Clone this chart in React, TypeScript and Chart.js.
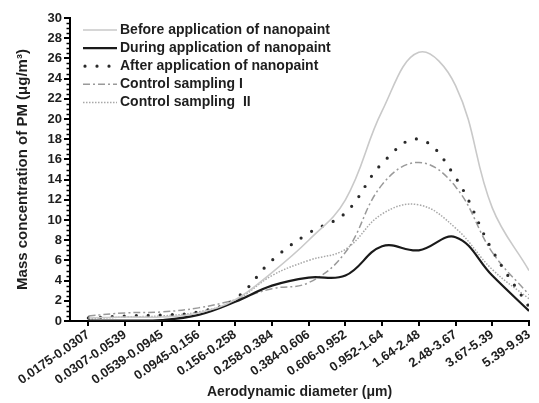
import React, { useEffect, useRef } from "react";
import { Chart, registerables } from "chart.js";

Chart.register(...registerables);

const categories: string[] = [
  "0.0175-0.0307",
  "0.0307-0.0539",
  "0.0539-0.0945",
  "0.0945-0.156",
  "0.156-0.258",
  "0.258-0.384",
  "0.384-0.606",
  "0.606-0.952",
  "0.952-1.64",
  "1.64-2.48",
  "2.48-3.67",
  "3.67-5.39",
  "5.39-9.93",
];

const beforeValues: number[] = [0.3, 0.4, 0.4, 0.8, 2.1, 4.8, 8.0, 12.0, 20.8, 26.6, 23.3, 11.2, 5.0];
const duringValues: number[] = [0.05, 0.05, 0.1, 0.6, 1.9, 3.5, 4.3, 4.5, 7.4, 7.0, 8.3, 4.5, 1.0];
const afterValues: number[] = [0.3, 0.5, 0.6, 0.9, 2.2, 6.0, 8.7, 10.7, 15.6, 18.0, 14.2, 7.0, 1.4];
const control1Values: number[] = [0.5, 0.8, 0.9, 1.3, 2.1, 3.2, 3.8, 6.8, 13.5, 15.7, 13.3, 6.8, 2.6];
const control2Values: number[] = [0.2, 0.4, 0.5, 0.9, 2.0, 4.5, 6.0, 7.1, 10.6, 11.5, 9.2, 5.1, 2.2];

const seriesLabels: string[] = [
  "Before application of nanopaint",
  "During application of nanopaint",
  "After application of nanopaint",
  "Control sampling I",
  "Control sampling  II",
];

const yMin = 0;
const yMax = 30;
const yMajorStep = 2;
const yMinorStep = 0.5;

const FONT = '"Liberation Sans", Arial, Helvetica, sans-serif';
const TEXT = "#1e1e1e";

const toPoints = (vals: number[]) => vals.map((v, i) => ({ x: i, y: v }));

const minorTicksPlugin = {
  id: "minorTicks",
  afterDraw(chart: any) {
    const ys = chart.scales.y;
    const ctx = chart.ctx;
    ctx.save();
    ctx.strokeStyle = "#000";
    ctx.lineWidth = 1.5;
    for (let v = yMin + yMinorStep; v < yMax; v += yMinorStep) {
      if (Math.abs(v % yMajorStep) < 1e-9) continue;
      const py = Math.round(ys.getPixelForValue(v)) + 0.5;
      ctx.beginPath();
      ctx.moveTo(ys.right - 3.5, py);
      ctx.lineTo(ys.right, py);
      ctx.stroke();
    }
    ctx.restore();
  },
};

const insideLegendPlugin = {
  id: "insideLegend",
  afterDatasetsDraw(chart: any) {
    const { ctx, chartArea } = chart;
    chart.data.datasets.forEach((ds: any, i: number) => {
      const y = chartArea.top + 12 + i * 18.1;
      const x0 = chartArea.left + 13;
      ctx.save();
      ctx.strokeStyle = ds.borderColor;
      ctx.lineWidth = ds.borderWidth;
      ctx.lineCap = ds.borderCapStyle || "butt";
      ctx.setLineDash(ds.borderDash || []);
      ctx.beginPath();
      ctx.moveTo(x0 + (ds.borderCapStyle === "round" ? 2 : 0), y);
      ctx.lineTo(x0 + 34, y);
      ctx.stroke();
      ctx.setLineDash([]);
      ctx.fillStyle = TEXT;
      ctx.font = `bold 14px ${FONT}`;
      ctx.textBaseline = "middle";
      ctx.textAlign = "left";
      ctx.fillText(ds.label, x0 + 37, y);
      ctx.restore();
    });
  },
};

export default function App() {
  const canvasRef = useRef<HTMLCanvasElement | null>(null);

  useEffect(() => {
    if (!canvasRef.current) return;
    Chart.defaults.font.family = FONT;
    const common = { pointRadius: 0, pointHoverRadius: 0, tension: 0.4, fill: false };
    const chart = new Chart(canvasRef.current, {
      type: "line",
      data: {
        datasets: [
          { ...common, label: seriesLabels[0], data: toPoints(beforeValues), borderColor: "#c9c9c9", borderWidth: 1.6 },
          { ...common, label: seriesLabels[1], data: toPoints(duringValues), borderColor: "#1a1a1a", borderWidth: 2.2 },
          {
            ...common,
            label: seriesLabels[2],
            data: toPoints(afterValues),
            borderColor: "#2a2a2a",
            borderWidth: 3.2,
            borderDash: [0, 12],
            borderCapStyle: "round",
          },
          { ...common, label: seriesLabels[3], data: toPoints(control1Values), borderColor: "#9a9a9a", borderWidth: 1.5, borderDash: [7, 3, 2, 3] },
          { ...common, label: seriesLabels[4], data: toPoints(control2Values), borderColor: "#a8a8a8", borderWidth: 1.5, borderDash: [1.5, 1.5] },
        ],
      },
      options: {
        responsive: false,
        animation: false,
        layout: { padding: { top: 18, right: 10, left: 14, bottom: 0 } },
        plugins: { legend: { display: false }, tooltip: { enabled: false } },
        scales: {
          x: {
            type: "linear",
            min: -0.5,
            max: categories.length - 1,
            afterFit: (s: any) => {
              s.height = 82;
            },
            border: { color: "#000", width: 2 },
            grid: { drawOnChartArea: false, color: "#000", lineWidth: 2, tickLength: 5 },
            ticks: {
              stepSize: 1,
              includeBounds: false,
              autoSkip: false,
              maxRotation: 35,
              minRotation: 35,
              padding: 1,
              color: TEXT,
              font: { size: 13, weight: "bold" },
              callback: (v: any) => {
                const n = Number(v);
                return Number.isInteger(n) && n >= 0 && n < categories.length ? categories[n] : "";
              },
            },
            title: {
              display: true,
              text: "Aerodynamic diameter (μm)",
              color: TEXT,
              font: { size: 14, weight: "bold" },
              padding: { top: 0, bottom: 2 },
            },
          },
          y: {
            min: yMin,
            max: yMax,
            afterFit: (s: any) => {
              s.width = 56;
            },
            border: { color: "#000", width: 2 },
            grid: { drawOnChartArea: false, color: "#000", lineWidth: 2, tickLength: 6 },
            ticks: {
              stepSize: yMajorStep,
              padding: 2,
              color: TEXT,
              font: { size: 13, weight: "bold" },
            },
            title: {
              display: true,
              text: "Mass concentration of PM (μg/m³)",
              color: TEXT,
              font: { size: 15, weight: "bold" },
              padding: { top: 0, bottom: 0 },
            },
          },
        },
      },
      plugins: [minorTicksPlugin, insideLegendPlugin],
    });
    return () => chart.destroy();
  }, []);

  return (
    <div style={{ position: "absolute", left: 0, top: 0, width: 539, height: 403, background: "#fff" }}>
      <canvas ref={canvasRef} width={539} height={403} />
    </div>
  );
}
